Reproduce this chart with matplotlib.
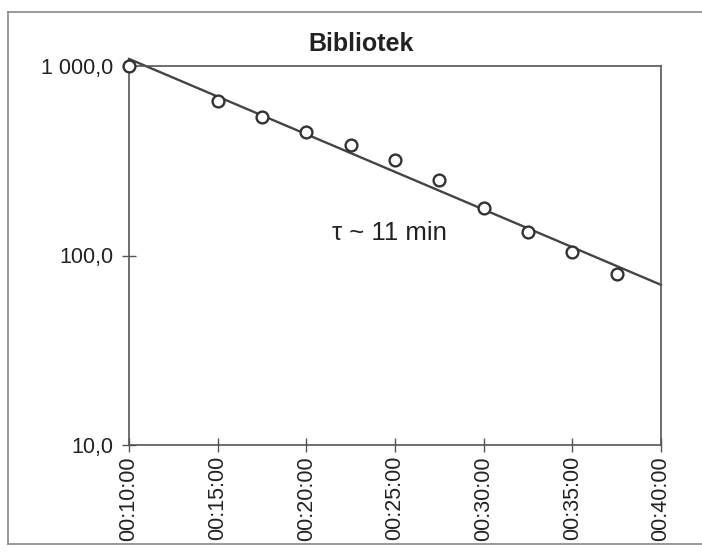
import matplotlib
matplotlib.use('Agg')
import matplotlib.pyplot as plt
from matplotlib.lines import Line2D

# time in minutes, counts
minutes = [10, 15, 17.5, 20, 22.5, 25, 27.5, 30, 32.5, 35, 37.5]
counts = [1000, 653, 538, 449, 383, 319, 250, 178, 133, 104, 80]

# exponential trendline (tau ~ 11 min), end points
fit_minutes = [10, 40]
fit_counts = [1090, 70]

xticks = [10, 15, 20, 25, 30, 35, 40]
xlabels = ['00:%02d:00' % m for m in xticks]
yticks = [10, 100, 1000]
ylabels = ['10,0', '100,0', '1 000,0']

plt.rcParams['font.family'] = ['Liberation Sans', 'DejaVu Sans']

fig = plt.figure(figsize=(7.02, 5.52), dpi=100)
ax = fig.add_axes([129/702, 1 - 445/552, 532/702, 379/552])

ax.plot(fit_minutes, fit_counts, color='#444444', lw=1.7, clip_on=False, zorder=2)
ax.plot(minutes, counts, 'o', ms=8.5, mfc='white', mec='#333333', mew=1.7,
        clip_on=False, zorder=3)

ax.set_yscale('log')
ax.set_xlim(10, 40)
ax.set_ylim(10, 1000)
ax.set_xticks(xticks)
ax.set_xticklabels(xlabels, rotation=90)
ax.set_yticks(yticks)
ax.set_yticklabels(ylabels)
ax.yaxis.set_minor_locator(matplotlib.ticker.NullLocator())
ax.tick_params(direction='inout', length=10, width=1, color='#555555',
               labelsize=15.5, labelcolor='#222222')
ax.tick_params(axis='x', pad=3)
ax.tick_params(axis='y', pad=6.5)

for s in ax.spines.values():
    s.set_color('#555555')
    s.set_linewidth(1.2)

# title is centred on the whole chart area, not the plot area
fig.text(361/702, 1 - 44/552, 'Bibliotek', fontsize=18, fontweight='bold',
         color='#222222', ha='center', va='center')
ax.text(24.7, 131, '\u03c4 ~ 11 min', fontsize=18.5, color='#222222',
        ha='center', va='center')

# outer chart frame (right side is cut off in the original)
left, top, bottom = 8/702, 1 - 12/552, 1 - 544/552
for xs, ys in [([left, left], [bottom, top]),
               ([left, 1.0], [top, top]),
               ([left, 1.0], [bottom, bottom])]:
    fig.add_artist(Line2D(xs, ys, transform=fig.transFigure,
                          color='#888888', lw=1.2))

fig.savefig('out.png', dpi=100)
